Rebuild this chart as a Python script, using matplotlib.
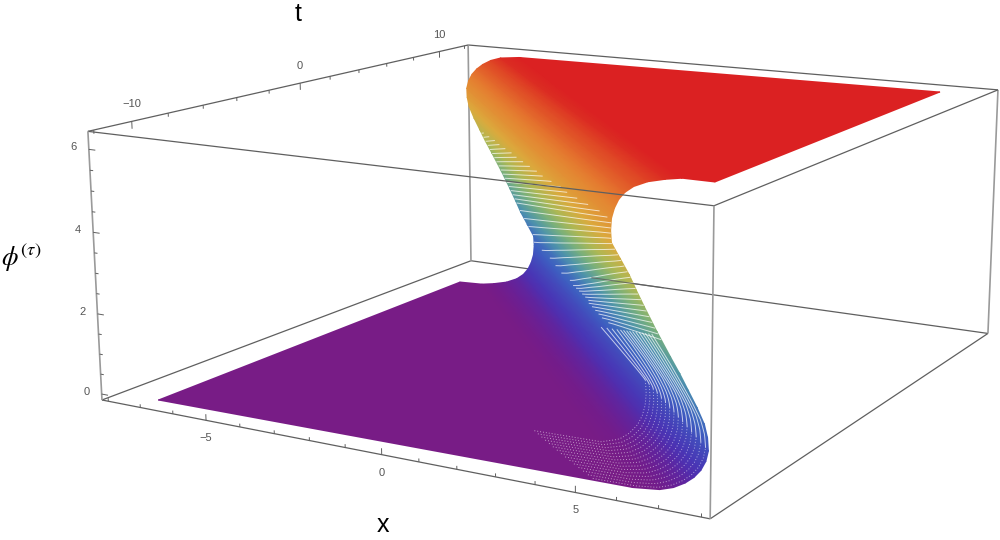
# Kink surface in a Mathematica-style 3D box, drawn on a 2D axes through a fitted perspective
import numpy as np
import matplotlib
matplotlib.use("Agg")
import matplotlib.pyplot as plt
from matplotlib.colors import LinearSegmentedColormap
from matplotlib.collections import LineCollection

plt.rcParams['font.family'] = ['Liberation Sans', 'DejaVu Sans']
plt.rcParams['mathtext.fontset'] = 'stix'

# surface: one phi level per column, front and back edge of the sheet
phi_levels = [0, 0, 0.06, 0.15, 0.28, 0.42, 0.58, 0.77, 0.98, 1.23, 1.48, 1.78, 2.08, 2.38, 2.68, 3.14,
              3.6, 3.9, 4.2, 4.5, 4.8, 5.05, 5.3, 5.51, 5.7, 5.86, 6.0, 6.13, 6.22, 6.28, 6.28]
x_front = [-6.70, 6.11, 6.74, 7.05, 7.30, 7.48, 7.61, 7.69, 7.71, 7.64, 7.52, 7.29, 7.03, 6.77, 6.49, 6.07,
           5.67, 5.42, 5.18, 4.90, 4.62, 4.55, 4.52, 4.55, 4.62, 4.74, 4.93, 5.25, 5.66, 6.05, 6.84]
t_front = [-11.84, -11.53, -11.50, -11.45, -11.38, -11.31, -11.22, -11.12, -11.01, -10.87, -10.74, -10.58,
           -10.42, -10.26, -10.10, -9.85, -9.60, -9.44, -9.28, -9.12, -8.96, -8.83, -8.69, -8.58, -8.48,
           -8.39, -8.32, -8.25, -8.20, -8.17, -8.18]
x_back = [-6.73, -6.05, -5.66, -5.25, -4.93, -4.74, -4.62, -4.55, -4.52, -4.55, -4.62, -4.90, -5.18, -5.42,
          -5.67, -6.07, -6.49, -6.77, -7.03, -7.29, -7.52, -7.64, -7.71, -7.69, -7.61, -7.48, -7.30, -7.05,
          -6.74, -6.11, 6.69]
t_back = [8.01, 8.17, 8.20, 8.25, 8.32, 8.39, 8.48, 8.58, 8.69, 8.83, 8.96, 9.12, 9.28, 9.44, 9.60, 9.85,
          10.10, 10.26, 10.42, 10.58, 10.74, 10.87, 11.01, 11.12, 11.22, 11.31, 11.38, 11.45, 11.50, 11.53, 11.98]

x_ticks = [-5, 0, 5]
t_ticks = [-10, 0, 10]
phi_ticks = [0, 2, 4, 6]

X0, X1, T0, T1, Z0, Z1 = -8.2, 8.2, -12.3, 12.3, -0.15, 6.43

# pixel position of the box corners, used to fit the view
corners = [(X0, T0, Z1, 88, 131), (X0, T1, Z1, 468, 45), (X1, T1, Z1, 998, 90), (X1, T0, Z1, 714, 206),
           (X0, T0, Z0, 102, 400), (X1, T0, Z0, 710, 519), (X1, T1, Z0, 988, 333), (X0, T1, Z0, 471, 261)]
rows = []
for x, t, z, u, v in corners:
    rows.append([x, t, z, 1, 0, 0, 0, 0, -u*x, -u*t, -u*z, -u])
    rows.append([0, 0, 0, 0, x, t, z, 1, -v*x, -v*t, -v*z, -v])
P = np.linalg.svd(np.array(rows))[2][-1].reshape(3, 4)


def proj(x, t, z):
    x, t, z = np.broadcast_arrays(np.asarray(x, float), np.asarray(t, float), np.asarray(z, float))
    h = P @ np.stack([x.ravel(), t.ravel(), z.ravel(), np.ones(x.size)])
    return (h[0]/h[2]).reshape(x.shape), (h[1]/h[2]).reshape(x.shape)


rainbow = LinearSegmentedColormap.from_list("rainbow_wl", [
    (0.00, (0.471, 0.109, 0.527)), (0.03, (0.40, 0.13, 0.60)), (0.08, (0.29, 0.20, 0.71)),
    (0.20, (0.24, 0.38, 0.76)), (0.36, (0.30, 0.58, 0.68)), (0.50, (0.47, 0.69, 0.49)),
    (0.62, (0.68, 0.72, 0.33)), (0.76, (0.86, 0.67, 0.24)), (0.90, (0.90, 0.50, 0.19)),
    (0.97, (0.88, 0.30, 0.15)), (1.00, (0.857, 0.131, 0.132))])

fig = plt.figure(figsize=(10, 5.4), dpi=100)
ax = fig.add_axes([0, 0, 1, 1])
ax.set_xlim(0, 1000)
ax.set_ylim(540, 0)
ax.axis('off')


def edge(a, b, **kw):
    u, v = proj(*zip(a, b))
    ax.plot(u, v, solid_capstyle='butt', **kw)


thin = dict(color='#5f5f5f', lw=0.9)
post = dict(color='#9a9a9a', lw=1.2)

# back of the box goes under the surface
edge((X0, T1, Z0), (X1, T1, Z0), zorder=1, **thin)
edge((X0, T1, Z0), (X0, T0, Z0), zorder=1, **thin)
edge((X1, T1, Z0), (X1, T0, Z0), zorder=1, **thin)
edge((X0, T1, Z1), (X1, T1, Z1), zorder=1, **thin)
edge((X0, T1, Z0), (X0, T1, Z1), zorder=1, **post)
edge((X1, T1, Z0), (X1, T1, Z1), zorder=1, **post)
edge((X0, T0, Z1), (X0, T1, Z1), zorder=1, **thin)
edge((X1, T0, Z1), (X1, T1, Z1), zorder=1, **thin)

z_arr = np.array(phi_levels)
fx, ft = np.array(x_front), np.array(t_front)
bx, bt = np.array(x_back), np.array(t_back)
U, V = proj(np.vstack([fx, bx]), np.vstack([ft, bt]), np.vstack([z_arr, z_arr]))
ax.pcolormesh(U, V, np.vstack([z_arr, z_arr]), shading='gouraud', cmap=rainbow, vmin=0, vmax=6.28, zorder=2)

# gaps between the rows of dots on the steep part of the sheet
cols = np.arange(len(z_arr), dtype=float)
last = len(z_arr) - 1


def sheet(c, r):
    x = (1-r)*np.interp(c, cols, fx) + r*np.interp(c, cols, bx)
    t = (1-r)*np.interp(c, cols, ft) + r*np.interp(c, cols, bt)
    return proj(x, t, np.interp(c, cols, z_arr))


def col_of(z):
    return np.interp(z, z_arr[1:last], cols[1:last])


solid, dotted = [], []
for z_s in np.arange(3.0, 7.6, 0.105):
    k = np.interp(z_s, [2.4, 4.2, 5.3], [3.0, 4.0, 3.0])
    r = np.linspace(0, 1, 50)
    z = z_s - k*r
    keep = (z >= 1.3) & (z <= 5.3 - 1.1*r)
    if keep.sum() > 1:
        u, v = sheet(col_of(z[keep]), r[keep])
        solid.append(np.column_stack([u, v]))

c_mid = col_of(0.98)
for q in np.arange(0.012, 0.30, 0.02):
    s = np.linspace(0, 1, 30)
    r_top = 0.05 + 1.67*q
    z_top = 2.9 - 6.3*q
    u, v = sheet(col_of(0.98 + (z_top - 0.98)*s), q + (r_top - q)*s**2)
    solid.append(np.column_stack([u, v]))
    c = np.linspace(0.93 - 0.3*q, c_mid, 30)
    r = q*(0.6 + 0.4*np.clip((c - 1)/(c_mid - 1), 0, 1))
    u, v = sheet(c, r)
    dotted.append(np.column_stack([u, v]))
ax.add_collection(LineCollection(solid, colors='white', linewidths=0.7, alpha=0.7, zorder=3))
ax.add_collection(LineCollection(dotted, colors='white', linewidths=0.7, alpha=0.55, linestyles=[(0, (1, 2))], zorder=3))

# bit of the back edge seen through the gaps
edge((-4.0, T1, Z0), (-1.6, T1, Z0), zorder=3, color='#5f5f5f', lw=0.8, alpha=0.8)

# front of the box on top
edge((X0, T0, Z0), (X1, T0, Z0), zorder=4, **thin)
edge((X0, T0, Z1), (X1, T0, Z1), zorder=4, **thin)
edge((X0, T0, Z0), (X0, T0, Z1), zorder=4, **post)
edge((X1, T0, Z0), (X1, T0, Z1), zorder=4, **post)

tick_kw = dict(color='#5f5f5f', lw=0.7, zorder=4)
for x in range(-8, 9):
    edge((x, T0, Z0), (x, T0, Z0 + (0.15 if x in x_ticks else 0.08)), **tick_kw)
for t in range(-12, 13, 2):
    edge((X0, t, Z1), (X0, t, Z1 - (0.18 if t in t_ticks else 0.09)), **tick_kw)
for i in range(14):
    z = i*0.5
    if z <= Z1:
        edge((X0, T0, z), (X0 + (0.2 if z in phi_ticks else 0.1), T0, z), **tick_kw)

lab = dict(fontsize=8, color='#555555', ha='center', va='center')
for x in x_ticks:
    u, v = proj(x, T0, Z0)
    ax.text(u, v + 18, str(x).replace('-', '\u2212'), **lab)
for t in t_ticks:
    u, v = proj(X0, t, Z1)
    ax.text(u, v - 17, str(t).replace('-', '\u2212'), **lab)
for z in phi_ticks:
    u, v = proj(X0, T0, z)
    ax.text(u - 15, v - 2, str(z), **lab)

ax.text(298, 14, 't', fontsize=18, ha='center', va='center')
ax.text(383, 525, 'x', fontsize=18, ha='center', va='center')
ax.text(21, 258, r'$\phi^{(\tau)}$', fontsize=19, ha='center', va='center')

fig.savefig("out.png", dpi=100)
